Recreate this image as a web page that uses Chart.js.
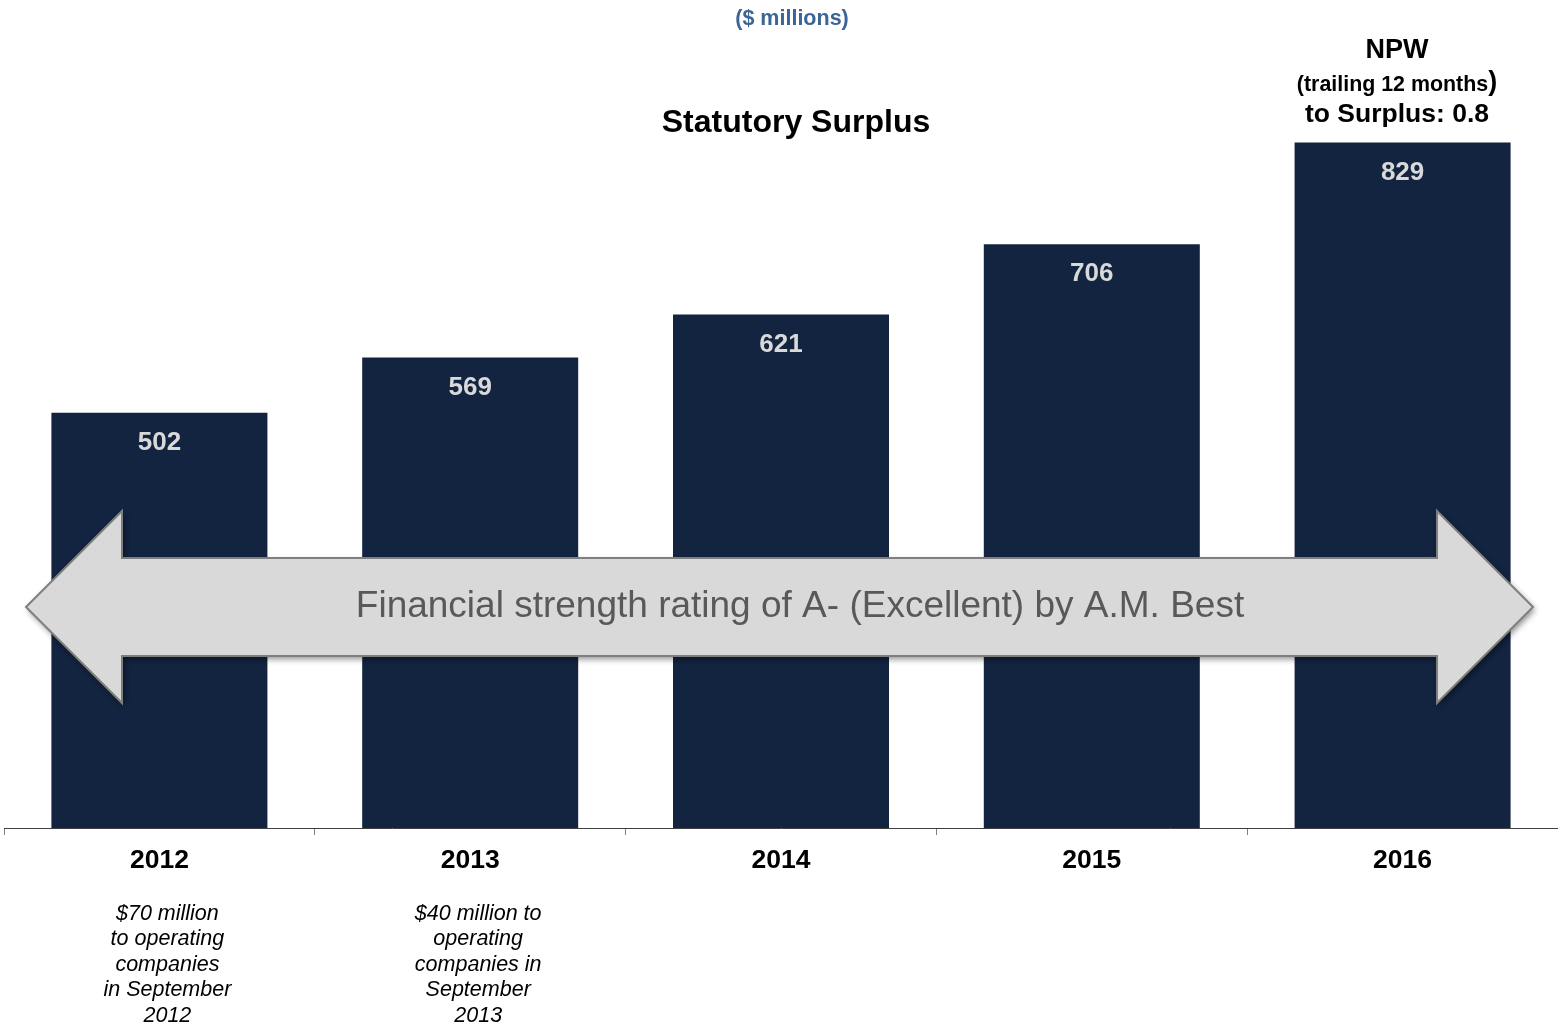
<!DOCTYPE html>
<html>
<head>
<meta charset="utf-8">
<script src="https://cdn.jsdelivr.net/npm/chart.js@4.4.0/dist/chart.umd.min.js"></script>
<style>
html,body{margin:0;padding:0;background:#fff;}
#wrap{position:relative;width:1558px;height:1030px;}
</style>
</head>
<body>
<div id="wrap"><canvas id="c" width="1558" height="1030"></canvas></div>
<script>
const categories = ['2012', '2013', '2014', '2015', '2016'];
const surplus = [502, 569, 621, 706, 829];
const notes = [
  ['$70 million', 'to operating', 'companies', 'in September', '2012'],
  ['$40 million to', 'operating', 'companies in', 'September', '2013'],
  [], [], []
];
const unitLabel = '($ millions)';
const chartTitle = 'Statutory Surplus';
const arrowText = 'Financial strength rating of A- (Excellent) by A.M. Best';
const npwLines = ['NPW', '(trailing 12 months', 'to Surplus: 0.8'];

const FONT = '"Liberation Sans", Arial, sans-serif';
const BAR = '#12243f';

const overlay = {
  id: 'overlay',
  afterDatasetsDraw(chart) {
    const ctx = chart.ctx;
    const meta = chart.getDatasetMeta(0);
    ctx.save();
    // value labels
    ctx.fillStyle = '#d9d9d9';
    ctx.font = 'bold 26px ' + FONT;
    ctx.textAlign = 'center';
    ctx.textBaseline = 'middle';
    meta.data.forEach((bar, i) => {
      ctx.fillText(String(surplus[i]), bar.x, bar.y + 30);
    });
    // arrow
    const yMid = 607, bodyH = 98, headH = 192, headL = 96;
    const xL = 26, xR = 1533;
    ctx.beginPath();
    ctx.moveTo(xL, yMid);
    ctx.lineTo(xL + headL, yMid - headH / 2);
    ctx.lineTo(xL + headL, yMid - bodyH / 2);
    ctx.lineTo(xR - headL, yMid - bodyH / 2);
    ctx.lineTo(xR - headL, yMid - headH / 2);
    ctx.lineTo(xR, yMid);
    ctx.lineTo(xR - headL, yMid + headH / 2);
    ctx.lineTo(xR - headL, yMid + bodyH / 2);
    ctx.lineTo(xL + headL, yMid + bodyH / 2);
    ctx.lineTo(xL + headL, yMid + headH / 2);
    ctx.closePath();
    ctx.save();
    ctx.shadowColor = 'rgba(0,0,0,0.45)';
    ctx.shadowBlur = 6;
    ctx.shadowOffsetX = 2;
    ctx.shadowOffsetY = 3;
    ctx.fillStyle = '#d9d9d9';
    ctx.fill();
    ctx.restore();
    ctx.lineWidth = 2;
    ctx.strokeStyle = '#7f7f7f';
    ctx.lineJoin = 'miter';
    ctx.stroke();
    ctx.fillStyle = '#595959';
    ctx.font = '37px ' + FONT;
    ctx.fillText(arrowText, 800, yMid);
    ctx.restore();
  },
  afterDraw(chart) {
    const ctx = chart.ctx;
    const xs = chart.scales.x;
    ctx.save();
    ctx.textAlign = 'center';
    ctx.textBaseline = 'middle';
    ctx.fillStyle = '#3b6597';
    ctx.font = 'bold 21.5px ' + FONT;
    ctx.fillText(unitLabel, 792, 19);
    ctx.fillStyle = '#000';
    ctx.font = 'bold 32px ' + FONT;
    ctx.fillText(chartTitle, 796, 123);
    // NPW block
    const nx = 1397;
    ctx.font = 'bold 27px ' + FONT;
    ctx.fillText(npwLines[0], nx, 51);
    ctx.font = 'bold 21.4px ' + FONT;
    const w1 = ctx.measureText(npwLines[1]).width;
    ctx.font = 'bold 27px ' + FONT;
    const w2 = ctx.measureText(')').width;
    const start = nx - (w1 + w2) / 2;
    ctx.textAlign = 'left';
    ctx.font = 'bold 21.4px ' + FONT;
    ctx.fillText(npwLines[1], start, 85);
    ctx.font = 'bold 27px ' + FONT;
    ctx.fillText(')', start + w1, 83);
    ctx.textAlign = 'center';
    ctx.font = 'bold 26.5px ' + FONT;
    ctx.fillText(npwLines[2], nx, 115);
    // notes
    ctx.font = 'italic 21.5px ' + FONT;
    notes.forEach((lines, i) => {
      const cx = xs.getPixelForValue(i) + 8;
      lines.forEach((ln, j) => {
        ctx.fillText(ln, cx, 914 + j * 25.5);
      });
    });
    ctx.restore();
  }
};

new Chart(document.getElementById('c'), {
  type: 'bar',
  data: {
    labels: categories,
    datasets: [{
      data: surplus,
      backgroundColor: BAR,
      borderWidth: 0,
      categoryPercentage: 1,
      barPercentage: 0.695
    }]
  },
  options: {
    responsive: false,
    animation: false,
    events: [],
    layout: { padding: { left: 4, right: 0, top: 1, bottom: 0 } },
    plugins: { legend: { display: false }, tooltip: { enabled: false }, title: { display: false } },
    scales: {
      y: {
        display: false,
        min: 0,
        max: 1000
      },
      x: {
        offset: true,
        afterFit(scale) { scale.height = 202; },
        border: { display: true, color: '#404040', width: 1 },
        grid: {
          offset: true,
          drawOnChartArea: false,
          drawTicks: true,
          tickLength: 7,
          color: '#808080',
          lineWidth: 1
        },
        ticks: {
          color: '#000',
          font: { family: FONT, size: 26.5, weight: 'bold' },
          padding: 10,
          maxRotation: 0
        }
      }
    }
  },
  plugins: [overlay]
});
</script>
</body>
</html>
